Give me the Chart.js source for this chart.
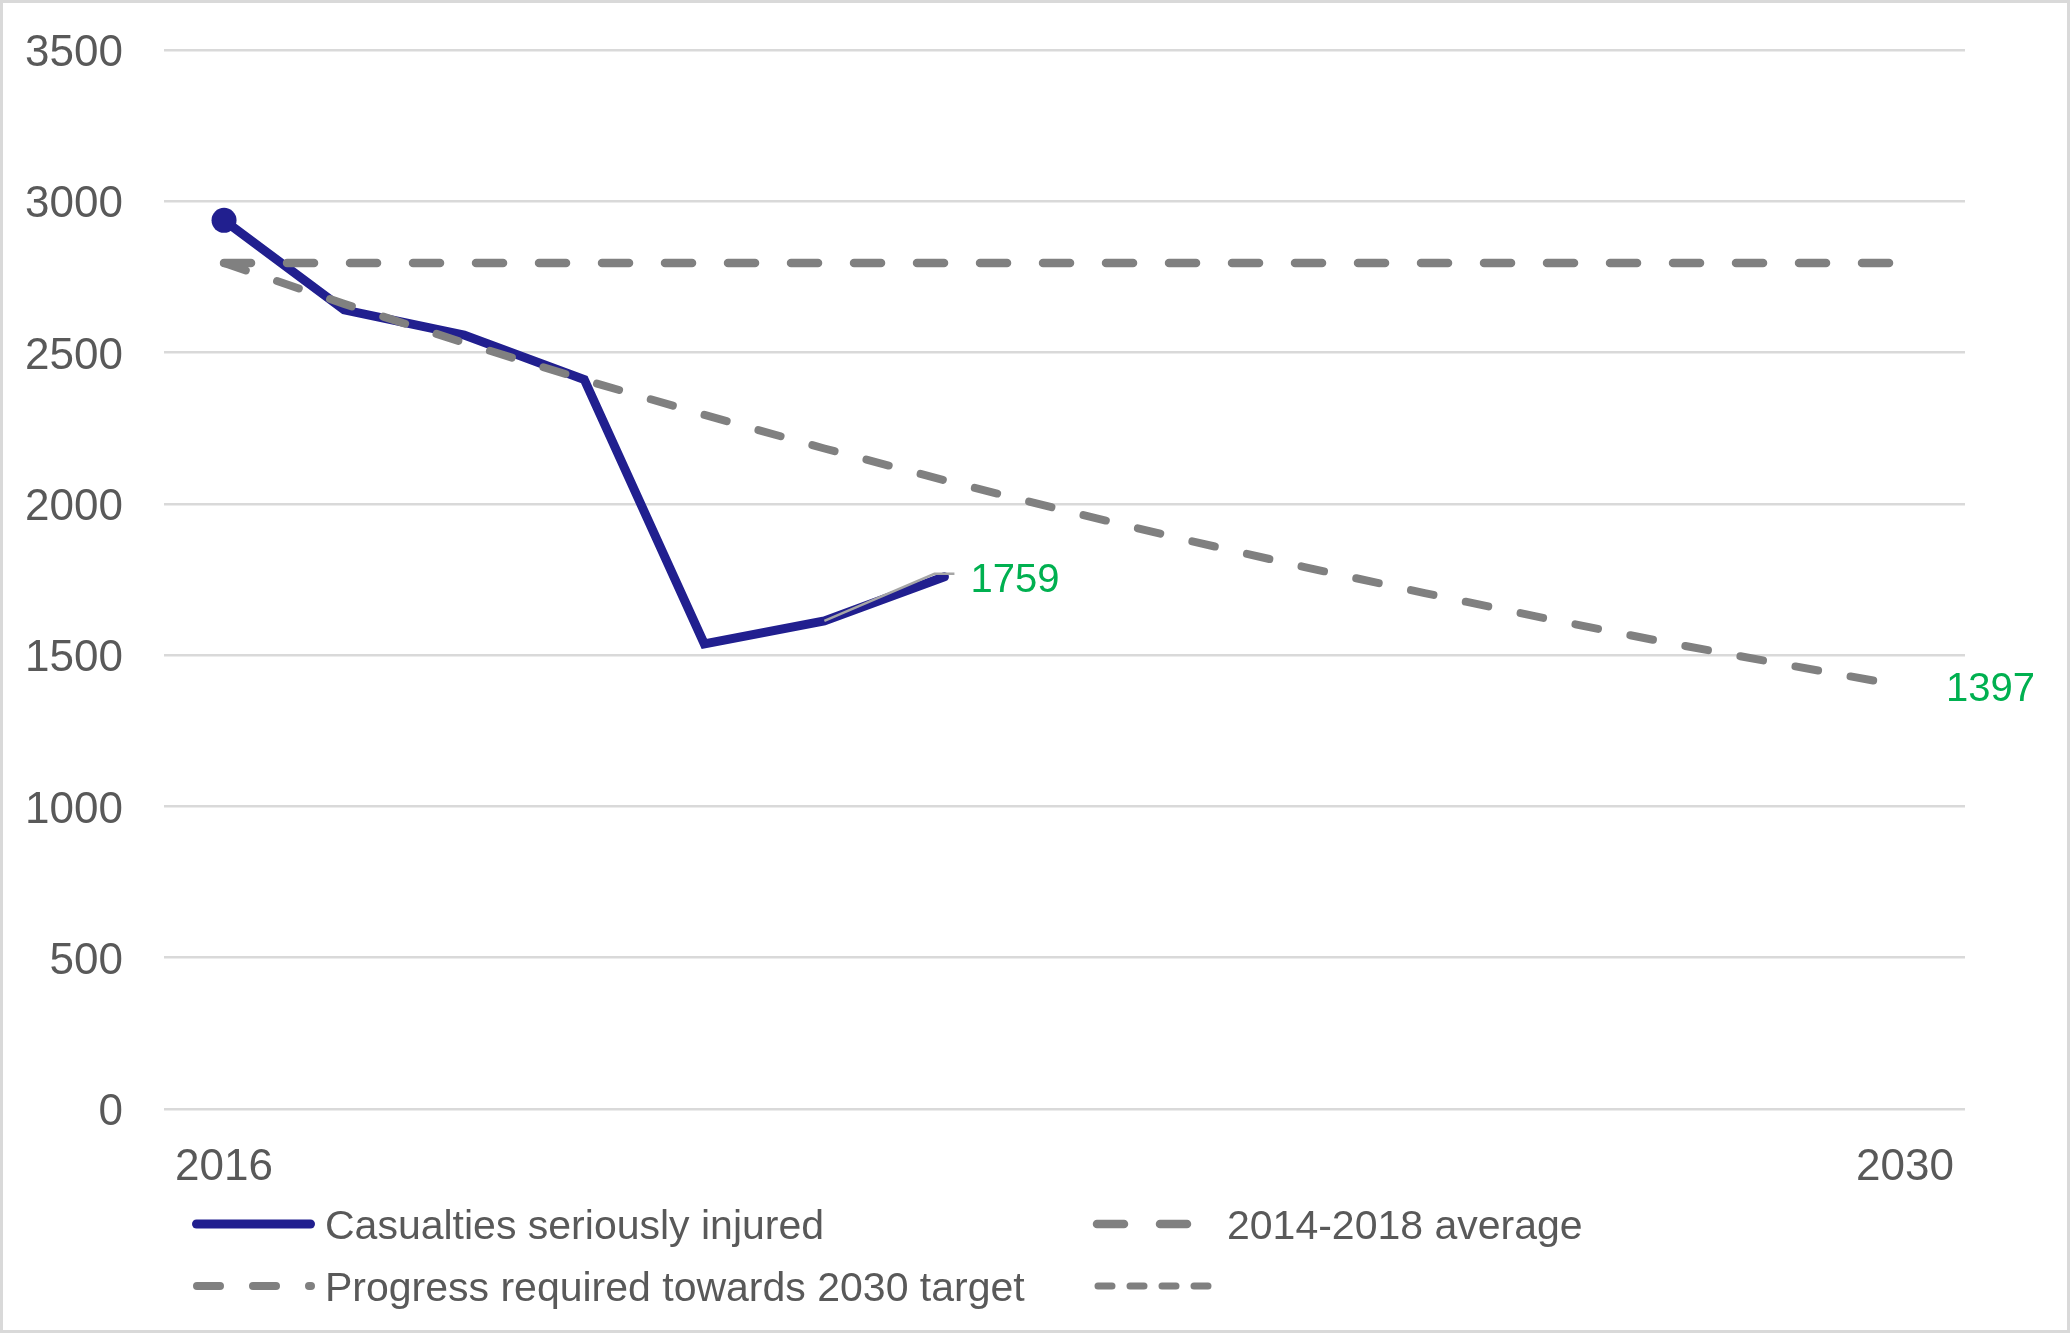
<!DOCTYPE html>
<html>
<head>
<meta charset="utf-8">
<script src="https://cdn.jsdelivr.net/npm/chart.js@4.4.0/dist/chart.umd.min.js"></script>
<style>
html,body{margin:0;padding:0;background:#fff;}
#wrap{width:2071px;height:1334px;position:relative;}
</style>
</head>
<body>
<div id="wrap"><canvas id="c"></canvas></div>
<script>
// ---- data ----
const years = ['2016','2017','2018','2019','2020','2021','2022','2023','2024','2025','2026','2027','2028','2029','2030'];
const casualties = [2937, 2641, 2558, 2411, 1537, 1613, 1759, null, null, null, null, null, null, null, null];
const average2014_2018 = [2796, 2796, 2796, 2796, 2796, 2796, 2796, 2796, 2796, 2796, 2796, 2796, 2796, 2796, 2796];
const progressRequired = [2796, 2661, 2532, 2410, 2294, 2183, 2078, 1978, 1882, 1791, 1705, 1622, 1543, 1469, 1397];
const unnamedSeries = [null, null, null, null, null, null, null, null, null, null, null, null, null, null, null];
const yTickValues = [0, 500, 1000, 1500, 2000, 2500, 3000, 3500];
const shownYearLabels = ['2016', '2030'];
const seriesLabels = ['Casualties seriously injured', '2014-2018 average', 'Progress required towards 2030 target', ''];

const FONT = '"Liberation Sans", Arial, sans-serif';
const TEXT = '#595959';
const GRAY = '#808080';
const NAVY = '#211f8f';
const TEXT_DY = 4; // canvas 'middle' baseline sits slightly high

// legend layout (positions only)
const legendLayout = [
  {x0: 196.5, x1: 310.5, tx: 325, y: 1224},
  {x0: 1097, x1: 1190, tx: 1227, y: 1224},
  {x0: 197, x1: 311, tx: 325, y: 1286},
  {x0: 1098, x1: 1210, tx: 1227, y: 1286}
];

const framePlugin = {
  id: 'frame',
  beforeDraw(chart) {
    const ctx = chart.ctx;
    ctx.save();
    ctx.fillStyle = '#ffffff';
    ctx.fillRect(0, 0, chart.width, chart.height);
    ctx.restore();
  },
  afterDraw(chart) {
    const ctx = chart.ctx;
    ctx.save();
    ctx.strokeStyle = '#d9d9d9';
    ctx.lineWidth = 3;
    ctx.strokeRect(1.5, 1.5, chart.width - 4, chart.height - 4);
    chart.data.datasets.forEach((ds, i) => {
      const L = legendLayout[i];
      if (!L) return;
      ctx.save();
      ctx.strokeStyle = ds.borderColor;
      ctx.lineWidth = ds.legendWidth || ds.borderWidth;
      ctx.lineCap = 'round';
      ctx.setLineDash(ds.borderDash || []);
      ctx.beginPath();
      ctx.moveTo(L.x0, L.y);
      ctx.lineTo(L.x1, L.y);
      ctx.stroke();
      ctx.restore();
      if (ds.label) {
        ctx.fillStyle = TEXT;
        ctx.font = '41px ' + FONT;
        ctx.textAlign = 'left';
        ctx.textBaseline = 'middle';
        ctx.fillText(ds.label, L.tx, L.y + TEXT_DY);
      }
    });
    ctx.restore();
  }
};

const labelPlugin = {
  id: 'valueLabels',
  afterDatasetsDraw(chart) {
    const {ctx, scales: {x, y}} = chart;
    ctx.save();
    const ia = 5, ib = 6;
    const xa = x.getPixelForValue(ia), ya = y.getPixelForValue(casualties[ia]);
    const xb = x.getPixelForValue(ib), yb = y.getPixelForValue(casualties[ib]);
    ctx.strokeStyle = '#a6a6a6';
    ctx.lineWidth = 2.5;
    ctx.beginPath();
    ctx.moveTo(xa, ya);
    ctx.lineTo(xb - 10, yb - 3);
    ctx.lineTo(xb + 10, yb - 3);
    ctx.stroke();
    ctx.font = '40px ' + FONT;
    ctx.fillStyle = '#00b050';
    ctx.textAlign = 'left';
    ctx.textBaseline = 'middle';
    ctx.fillText(String(casualties[ib]), xb + 26, yb + TEXT_DY);
    const last = progressRequired.length - 1;
    ctx.fillText(String(progressRequired[last]), x.getPixelForValue(last) + 41, y.getPixelForValue(progressRequired[last]) + TEXT_DY);
    ctx.restore();
  }
};

new Chart(document.getElementById('c'), {
  type: 'line',
  data: {
    labels: years,
    datasets: [
      {
        label: seriesLabels[0], data: casualties, borderColor: NAVY, backgroundColor: NAVY,
        borderWidth: 9, legendWidth: 9, borderJoinStyle: 'miter', borderCapStyle: 'round',
        pointRadius: casualties.map((v, i) => i === 0 ? 12.5 : 0), pointBackgroundColor: NAVY,
        pointBorderWidth: 0, tension: 0, order: 4
      },
      {
        label: seriesLabels[1], data: average2014_2018, borderColor: GRAY, borderWidth: 8.5,
        borderDash: [27, 36], borderCapStyle: 'round', pointRadius: 0, tension: 0, order: 2
      },
      {
        label: seriesLabels[2], data: progressRequired, borderColor: GRAY, borderWidth: 8,
        borderDash: [23, 33], borderCapStyle: 'round', pointRadius: 0, tension: 0, order: 1
      },
      {
        label: seriesLabels[3], data: unnamedSeries, borderColor: GRAY, borderWidth: 7,
        borderDash: [14, 18], borderCapStyle: 'round', pointRadius: 0, order: 3
      }
    ]
  },
  options: {
    responsive: true,
    maintainAspectRatio: false,
    devicePixelRatio: 1,
    animation: false,
    events: [],
    layout: {padding: {top: 50, right: 106, bottom: 0, left: 0}},
    plugins: {legend: {display: false}, tooltip: {enabled: false}},
    scales: {
      x: {
        offset: true,
        grid: {display: false, drawTicks: false},
        border: {display: false},
        ticks: {
          autoSkip: false, maxRotation: 0, padding: 32, color: TEXT,
          font: {family: FONT, size: 44},
          callback: function(v, i) { const l = years[i]; return shownYearLabels.includes(l) ? l : ''; }
        },
        afterFit: (s) => { s.height = 225; }
      },
      y: {
        min: yTickValues[0], max: yTickValues[yTickValues.length - 1],
        ticks: {
          stepSize: yTickValues[1] - yTickValues[0], padding: 41, color: TEXT,
          font: {family: FONT, size: 44}, labelOffset: 4,
          callback: (v) => String(v)
        },
        grid: {color: '#d9d9d9', lineWidth: 2.5, drawTicks: false},
        border: {display: false},
        afterFit: (s) => { s.width = 164; s.paddingTop = 26; s.paddingBottom = 26; }
      }
    }
  },
  plugins: [framePlugin, labelPlugin]
});
</script>
</body>
</html>
